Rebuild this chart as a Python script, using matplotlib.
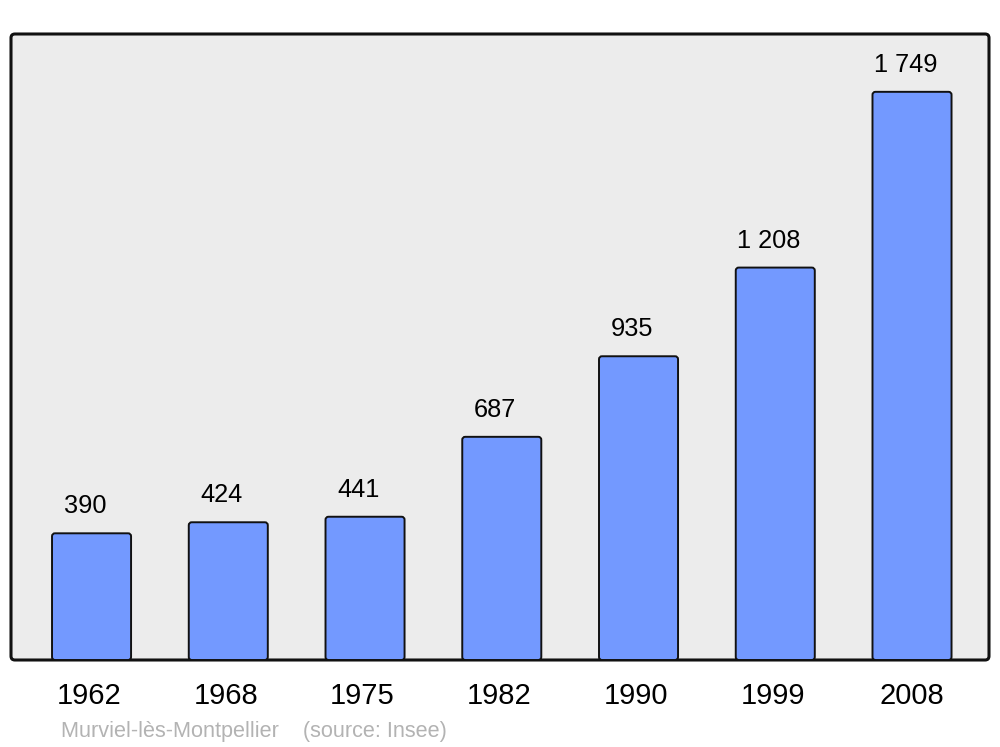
import matplotlib
matplotlib.use("Agg")
import matplotlib.pyplot as plt
import matplotlib.transforms as mtransforms
from matplotlib.patches import FancyBboxPatch

years = ["1962", "1968", "1975", "1982", "1990", "1999", "2008"]
population = [390, 424, 441, 687, 935, 1208, 1749]
value_labels = ["390", "424", "441", "687", "935", "1 208", "1 749"]
footer = "Murviel-lès-Montpellier    (source: Insee)"

plt.rcParams['font.family'] = ['Liberation Sans', 'DejaVu Sans']

W, H = 1000, 747
fig = plt.figure(figsize=(W / 100, H / 100), dpi=100)
ax_l, ax_r, ax_t, ax_b = 11, 989, 34, 660
ax = fig.add_axes([ax_l / W, 1 - ax_b / H, (ax_r - ax_l) / W, (ax_b - ax_t) / H])
ax.set_facecolor('none')
for s in ax.spines.values():
    s.set_visible(False)

# rounded frame
frame = FancyBboxPatch((0, 0), 1, 1, boxstyle="round,pad=0,rounding_size=0.004",
                       transform=ax.transAxes, facecolor='#ececec', edgecolor='#111111',
                       linewidth=2.2, zorder=0, clip_on=False,
                       mutation_aspect=(ax_r - ax_l) / (ax_b - ax_t))
ax.add_patch(frame)

ymax = 1927
xlo, xhi = -0.589, 6.563
ax.set_xlim(xlo, xhi)
ax.set_ylim(0, ymax)

width = 0.578
px_x = (ax_r - ax_l) / (xhi - xlo)
px_y = (ax_b - ax_t) / ymax
for i, v in enumerate(population):
    p = FancyBboxPatch((i - width / 2, 0), width, v,
                       boxstyle="round,pad=0,rounding_size=%f" % (3 / px_x),
                       mutation_aspect=px_x / px_y,
                       facecolor='#7399ff', edgecolor='#111111', linewidth=1.4, zorder=2)
    ax.add_patch(p)
    ax.text(i - 6.5 / px_x, v + 27 / px_y, value_labels[i], ha='center', va='center',
            fontsize=18.3, color='black', zorder=3)

ax.set_xticks(range(len(years)))
ax.set_xticklabels(years, fontsize=21)
ax.tick_params(axis='x', length=0, pad=16)
shift = mtransforms.ScaledTranslation(-2.5 / 100, 0, fig.dpi_scale_trans)
for lbl in ax.get_xticklabels()[:-1]:
    lbl.set_transform(lbl.get_transform() + shift)
ax.set_yticks([])

fig.text(61 / W, 1 - 731 / H, footer, ha='left', va='center', fontsize=15.6, color='#b3b3b3')

fig.savefig("out.png", dpi=100, facecolor='white')
